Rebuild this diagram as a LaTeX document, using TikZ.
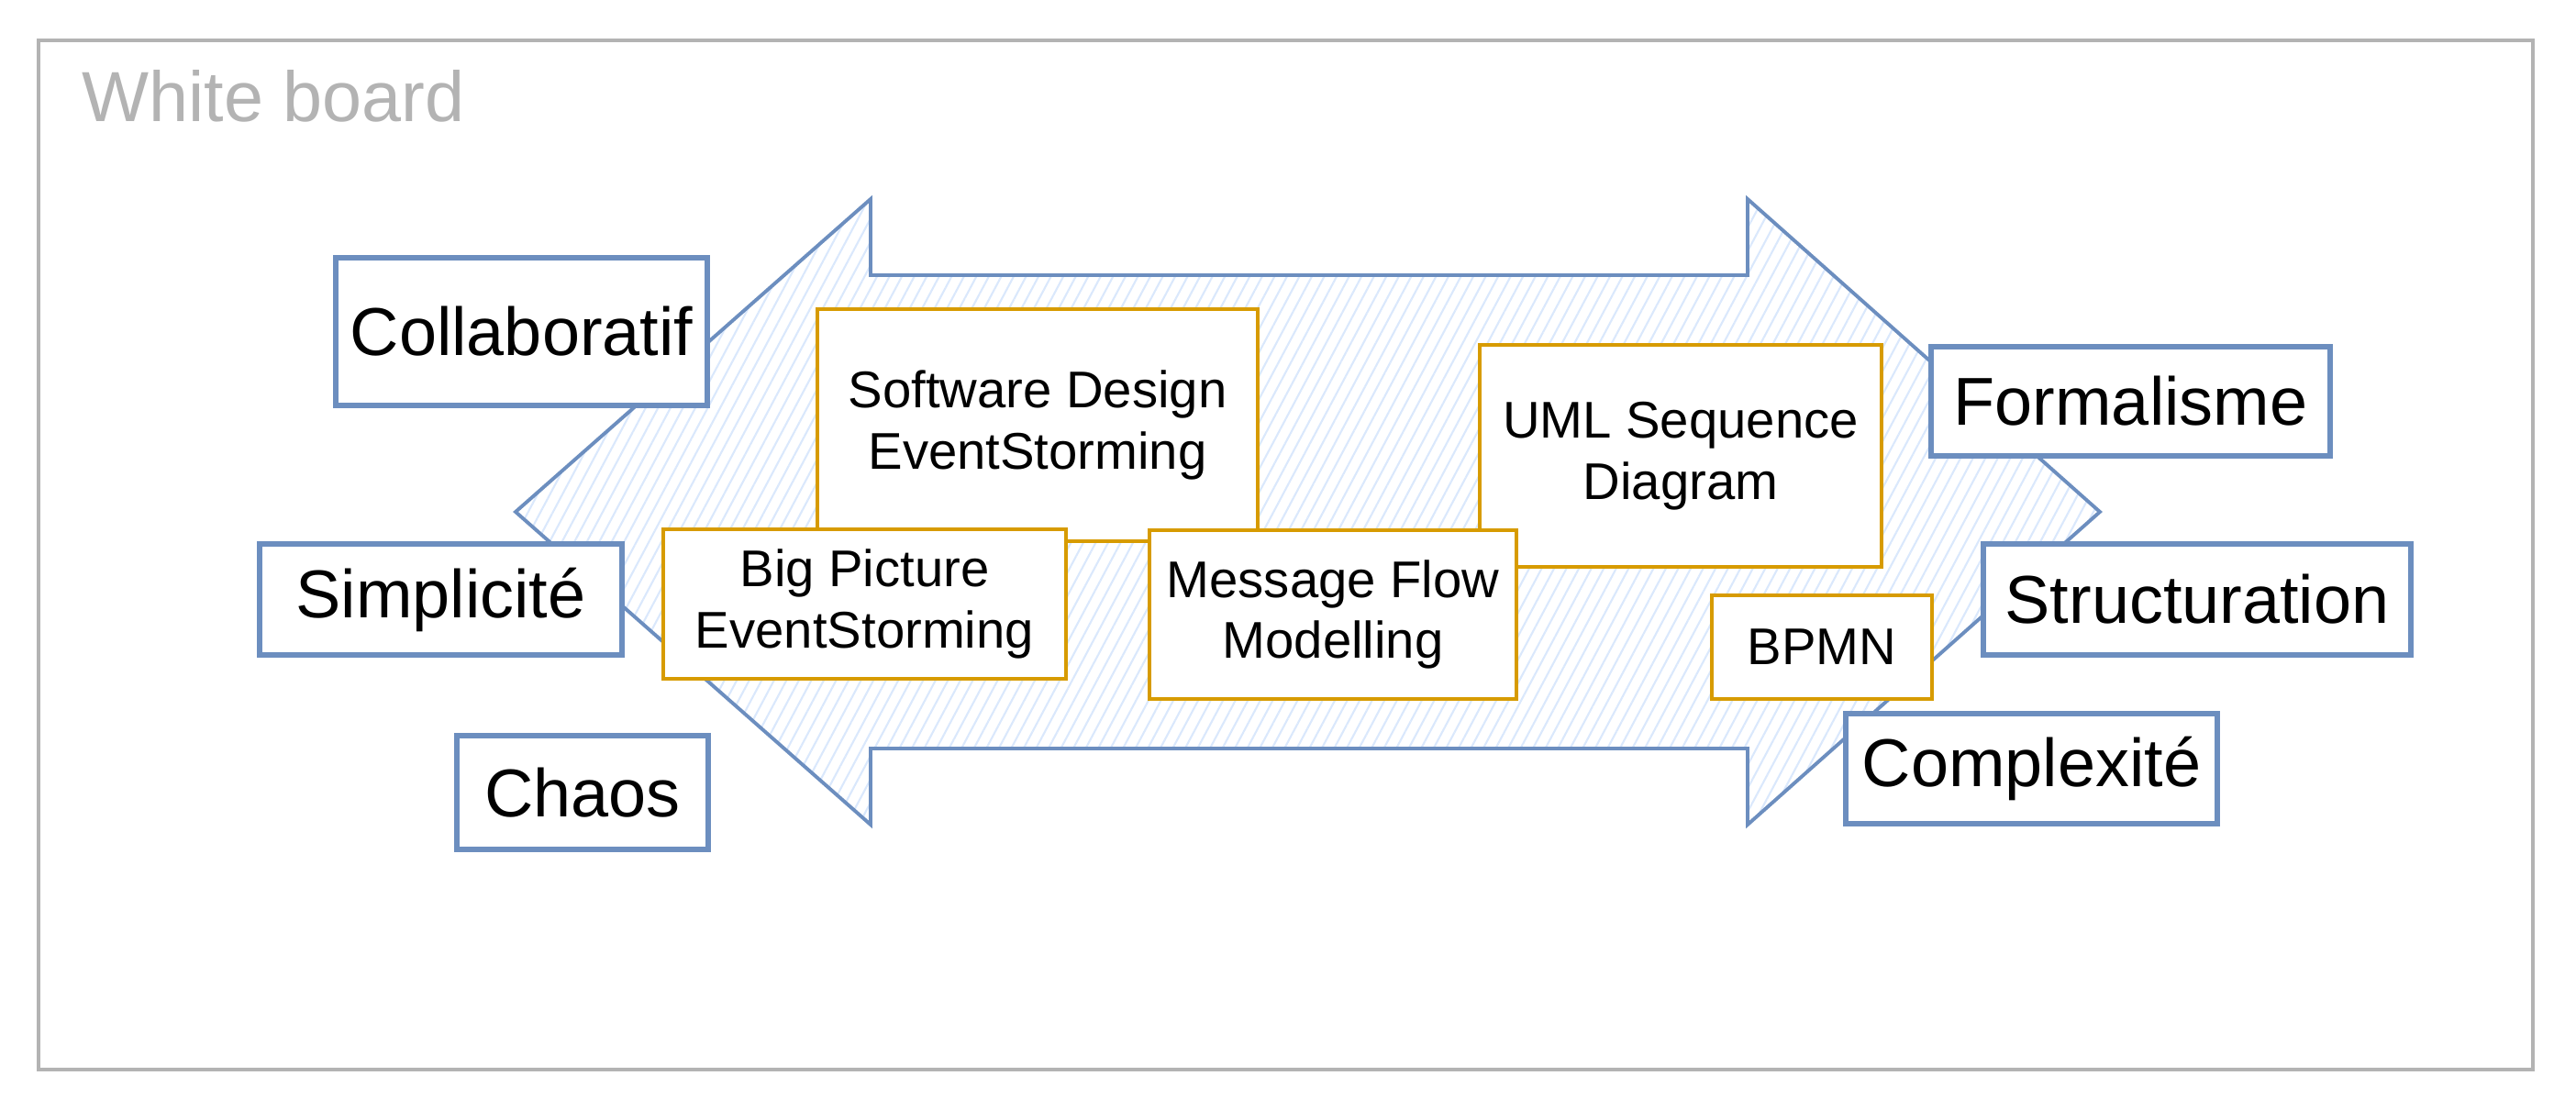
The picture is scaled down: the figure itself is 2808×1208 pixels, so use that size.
\documentclass[tikz,border=0pt]{standalone}
\usepackage{fontspec}
\setmainfont{Liberation Sans}
\usetikzlibrary{patterns.meta}

\definecolor{boxblue}{HTML}{6C8EBF}
\definecolor{boxorange}{HTML}{D79B00}
\definecolor{hatchblue}{HTML}{DAE8FC}
\definecolor{boardgray}{HTML}{B3B3B3}

\begin{document}
\begin{tikzpicture}[x=0.01cm, y=-0.01cm,
  bluebox/.style={draw=boxblue, line width=1.6pt, fill=white, align=center,
    inner sep=0pt, font=\fontsize{21}{25}\selectfont},
  orangebox/.style={draw=boxorange, line width=1.3pt, fill=white, align=center,
    inner sep=0pt, font=\fontsize{16}{19}\selectfont}]

  \useasboundingbox (0,0) rectangle (2808,1208);

  % --- White board frame ---
  \draw[boardgray, line width=0.9pt] (42,44) rectangle (2761,1166);
  \node[anchor=base west, text=boardgray, inner sep=0pt,
    font=\fontsize{22}{26}\selectfont] (board) at (89,132) {White board};

  % --- Big double arrow ---
  \draw[boxblue, line width=1.1pt,
    pattern={Lines[angle=62, distance=3.4pt, line width=0.6pt]}, pattern color=hatchblue]
    (562,558) -- (949,217) -- (949,300) -- (1905,300) -- (1905,217) -- (2289,558)
    -- (1905,899) -- (1905,816) -- (949,816) -- (949,899) -- cycle;

  % --- Methods (orange) ---
  \node[orangebox, minimum width=4.80cm, minimum height=2.53cm] (sdes) at (1131,463.5) {Software Design\\EventStorming};
  \node[orangebox, minimum width=4.38cm, minimum height=2.42cm] (uml) at (1832,497) {UML Sequence\\Diagram};
  \node[orangebox, minimum width=4.39cm, minimum height=1.63cm] (bigpic) at (942.5,658.5) {Big Picture\\EventStorming};
  \node[orangebox, minimum width=4.00cm, minimum height=1.84cm] (msgflow) at (1453,670) {Message Flow\\Modelling};
  \node[orangebox, minimum width=2.40cm, minimum height=1.13cm] (bpmn) at (1986,705.5) {BPMN};

  % --- Left side (blue) ---
  \node[bluebox, minimum width=4.05cm, minimum height=1.61cm] (collab) at (568.5,361.5) {Collaboratif};
  \node[bluebox, minimum width=3.95cm, minimum height=1.21cm] (simpl) at (480.5,653.5) {Simplicité};
  \node[bluebox, minimum width=2.74cm, minimum height=1.24cm] (chaos) at (635,864) {Chaos};

  % --- Right side (blue) ---
  \node[bluebox, minimum width=4.35cm, minimum height=1.19cm] (formal) at (2322.5,437.5) {Formalisme};
  \node[bluebox, minimum width=4.66cm, minimum height=1.21cm] (struct) at (2395,653.5) {Structuration};
  \node[bluebox, minimum width=4.05cm, minimum height=1.20cm] (complex) at (2214.5,838) {Complexité};

\end{tikzpicture}
\end{document}
